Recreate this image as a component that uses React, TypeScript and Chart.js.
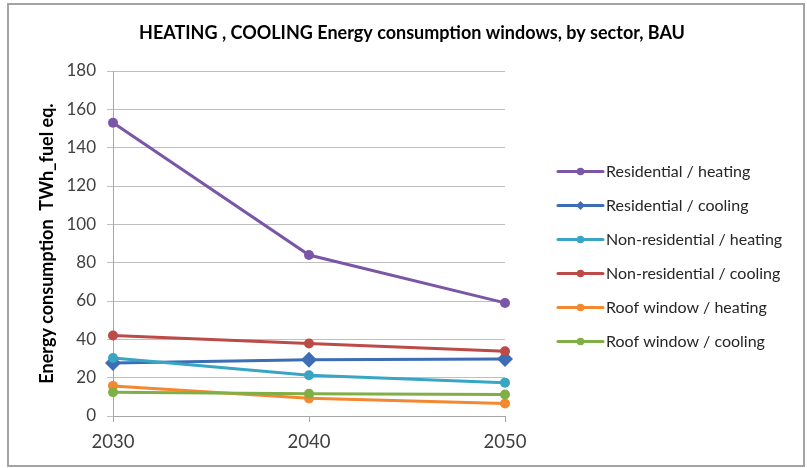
import React, { useEffect, useRef } from "react";
import { Chart, registerables } from "chart.js";

Chart.register(...registerables);

const years = ["2030", "2040", "2050"];
const residentialHeating = [153, 84, 59];
const residentialCooling = [27.7, 29.4, 29.8];
const nonResidentialHeating = [30.3, 21.3, 17.4];
const nonResidentialCooling = [42, 37.8, 33.8];
const roofWindowHeating = [15.7, 9.2, 6.5];
const roofWindowCooling = [12.4, 11.6, 11.2];

const seriesNames = [
  "Residential / heating",
  "Residential / cooling",
  "Non-residential / heating",
  "Non-residential / cooling",
  "Roof window / heating",
  "Roof window / cooling",
];
const seriesColors = ["#7B55A6", "#3D6DB4", "#37A5C3", "#BC4A47", "#F38830", "#80AF45"];
const seriesMarkers = ["circle", "rectRot", "circle", "circle", "circle", "circle"];

const chartTitle = "HEATING , COOLING Energy consumption windows, by sector, BAU";
const yAxisTitle = "Energy consumption  TWh_fuel eq.";
const yMin = 0;
const yMax = 180;
const yStep = 20;

const FONT = "Lato, 'Open Sans', sans-serif";

const sideLegend = {
  id: "sideLegend",
  afterDraw(chart: any) {
    const ctx = chart.ctx;
    const area = chart.chartArea;
    const x0 = area.right + 53;
    const lineLen = 45;
    ctx.save();
    chart.data.datasets.forEach((ds: any, i: number) => {
      const y = 166.5 + i * 34;
      ctx.strokeStyle = ds.borderColor;
      ctx.fillStyle = ds.borderColor;
      ctx.lineWidth = 3;
      ctx.lineCap = "round";
      ctx.beginPath();
      ctx.moveTo(x0, y);
      ctx.lineTo(x0 + lineLen, y);
      ctx.stroke();
      const mx = x0 + lineLen / 2;
      ctx.beginPath();
      if (ds.pointStyle === "rectRot") {
        const r = 4.5;
        ctx.moveTo(mx, y - r);
        ctx.lineTo(mx + r, y);
        ctx.lineTo(mx, y + r);
        ctx.lineTo(mx - r, y);
        ctx.closePath();
      } else {
        ctx.arc(mx, y, 3.8, 0, Math.PI * 2);
      }
      ctx.fill();
      ctx.fillStyle = "#262626";
      ctx.font = `16px ${FONT}`;
      ctx.textAlign = "left";
      ctx.textBaseline = "middle";
      ctx.fillText(seriesNames[i], x0 + lineLen + 3, y);
    });
    ctx.restore();
  },
};

const seriesData = [
  residentialHeating,
  residentialCooling,
  nonResidentialHeating,
  nonResidentialCooling,
  roofWindowHeating,
  roofWindowCooling,
];

export default function App() {
  const ref = useRef<HTMLCanvasElement | null>(null);
  useEffect(() => {
    document.body.style.margin = "0";
    const canvas = ref.current;
    if (!canvas) return;
    const chart = new Chart(canvas, {
      type: "line",
      data: {
        labels: years,
        datasets: seriesData.map((d, i) => ({
          label: seriesNames[i],
          data: d,
          borderColor: seriesColors[i],
          backgroundColor: seriesColors[i],
          borderWidth: 3,
          pointStyle: seriesMarkers[i] as any,
          pointRadius: seriesMarkers[i] === "rectRot" ? 8 : 5,
          pointBorderWidth: 0,
          pointBackgroundColor: seriesColors[i],
          tension: 0,
          fill: false,
          order: -i,
        })),
      },
      options: {
        responsive: false,
        animation: false,
        layout: { padding: { left: 12, right: 0, top: 0, bottom: 0 } },
        plugins: {
          legend: { display: false },
          tooltip: { enabled: false },
          title: {
            display: true,
            text: chartTitle,
            color: "#000",
            font: { family: FONT, size: 18, weight: "bold" },
            padding: { top: 17, bottom: 27.4 },
          },
        },
        scales: {
          x: {
            type: "category",
            offset: false,
            grid: {
              drawOnChartArea: false,
              drawTicks: true,
              tickLength: 6,
              color: "#a6a6a6",
            },
            border: { display: true, color: "#a6a6a6" },
            ticks: {
              color: "#404040",
              font: { family: FONT, size: 18.5 },
              padding: 9,
              maxRotation: 0,
            },
            afterFit: (scale: any) => {
              scale.height = 49;
            },
          },
          y: {
            min: yMin,
            max: yMax,
            ticks: {
              stepSize: yStep,
              color: "#404040",
              font: { family: FONT, size: 17 },
              padding: 11,
            },
            grid: { color: "#bfbfbf", tickLength: 6, lineWidth: 1 },
            border: { display: true, color: "#a6a6a6" },
            title: {
              display: true,
              text: yAxisTitle,
              color: "#000",
              font: { family: FONT, size: 18, weight: "bold" },
              padding: { top: 15, bottom: 0 },
            },
            afterFit: (scale: any) => {
              scale.width = 92;
            },
          },
          legendSpace: {
            type: "linear",
            position: "right",
            display: true,
            grid: { display: false },
            ticks: { display: false },
            border: { display: false },
            afterFit: (scale: any) => {
              scale.width = 298;
            },
          } as any,
        },
      },
      plugins: [sideLegend],
    });
    return () => chart.destroy();
  }, []);

  return (
    <div
      style={{
        position: "absolute",
        left: 7,
        top: 3,
        width: 798,
        height: 464,
        boxSizing: "border-box",
        border: "2px solid #a3a3a3",
        background: "#fff",
      }}
    >
      <canvas ref={ref} width={794} height={460} style={{ display: "block", width: 794, height: 460 }} />
    </div>
  );
}
